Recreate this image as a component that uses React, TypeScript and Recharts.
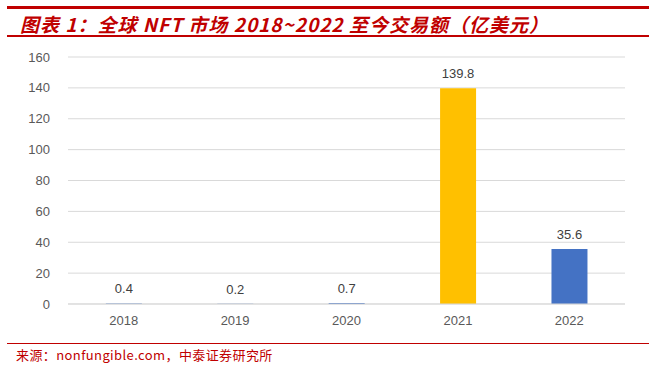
import React from 'react';
import { BarChart, Bar, XAxis, YAxis, CartesianGrid, LabelList, Cell } from 'recharts';

const years = ['2018', '2019', '2020', '2021', '2022'];
const volumes = [0.4, 0.2, 0.7, 139.8, 35.6];
const barColors = ['#4472C4', '#4472C4', '#4472C4', '#FFC000', '#4472C4'];
const yTicks = [0, 20, 40, 60, 80, 100, 120, 140, 160];

const data = years.map((y, i) => ({ year: y, value: volumes[i] }));

const RED = '#C00000';
const FONT = '"Liberation Sans", Arial, "Noto Sans CJK SC", sans-serif';

export default function App() {
  return (
    <div style={{ position: 'absolute', left: 0, top: 0, width: 654, height: 365, background: '#fff', fontFamily: FONT }}>
      <div style={{ position: 'absolute', left: 7, top: 6, width: 642, height: 3, background: RED }} />
      <div
        style={{
          position: 'absolute',
          left: 20,
          top: 12,
          fontSize: 19,
          lineHeight: '24px',
          fontStyle: 'italic',
          fontWeight: 'bold',
          color: RED,
          whiteSpace: 'nowrap',
          letterSpacing: 1,
          fontFamily: '"Noto Sans CJK SC", sans-serif',
        }}
      >
        图表 1：全球 NFT 市场 2018~2022 至今交易额（亿美元）
      </div>
      <div style={{ position: 'absolute', left: 7, top: 35, width: 642, height: 2, background: RED }} />
      <div style={{ position: 'absolute', left: 0, top: 0 }}>
        <BarChart
          width={654}
          height={365}
          data={data}
          margin={{ top: 57, right: 29, bottom: 31, left: 0 }}
          barCategoryGap="34%"
        >
          <CartesianGrid vertical={false} stroke="#d9d9d9" />
          <XAxis
            dataKey="year"
            axisLine={{ stroke: '#d9d9d9' }}
            tickLine={false}
            tickSize={0}
            tickMargin={12}
            height={30}
            tick={{ fill: '#595959', fontSize: 13, fontFamily: FONT }}
          />
          <YAxis
            width={68}
            domain={[0, 160]}
            ticks={yTicks}
            axisLine={false}
            tickLine={false}
            tickSize={0}
            tickMargin={18}
            tick={{ fill: '#595959', fontSize: 13, fontFamily: FONT }}
          />
          <Bar dataKey="value" isAnimationActive={false}>
            {data.map((d, i) => (
              <Cell key={d.year} fill={barColors[i]} />
            ))}
            <LabelList dataKey="value" position="top" offset={10} fill="#404040" fontSize={13} fontFamily={FONT} />
          </Bar>
        </BarChart>
      </div>
      <div style={{ position: 'absolute', left: 7, top: 343, width: 642, height: 1, background: RED }} />
      <div
        style={{
          position: 'absolute',
          left: 16,
          top: 346,
          fontSize: 13,
          lineHeight: '18px',
          color: RED,
          whiteSpace: 'nowrap',
          letterSpacing: 0.4,
          fontFamily: '"Noto Sans CJK SC", sans-serif',
        }}
      >
        来源：nonfungible.com，中泰证券研究所
      </div>
    </div>
  );
}
